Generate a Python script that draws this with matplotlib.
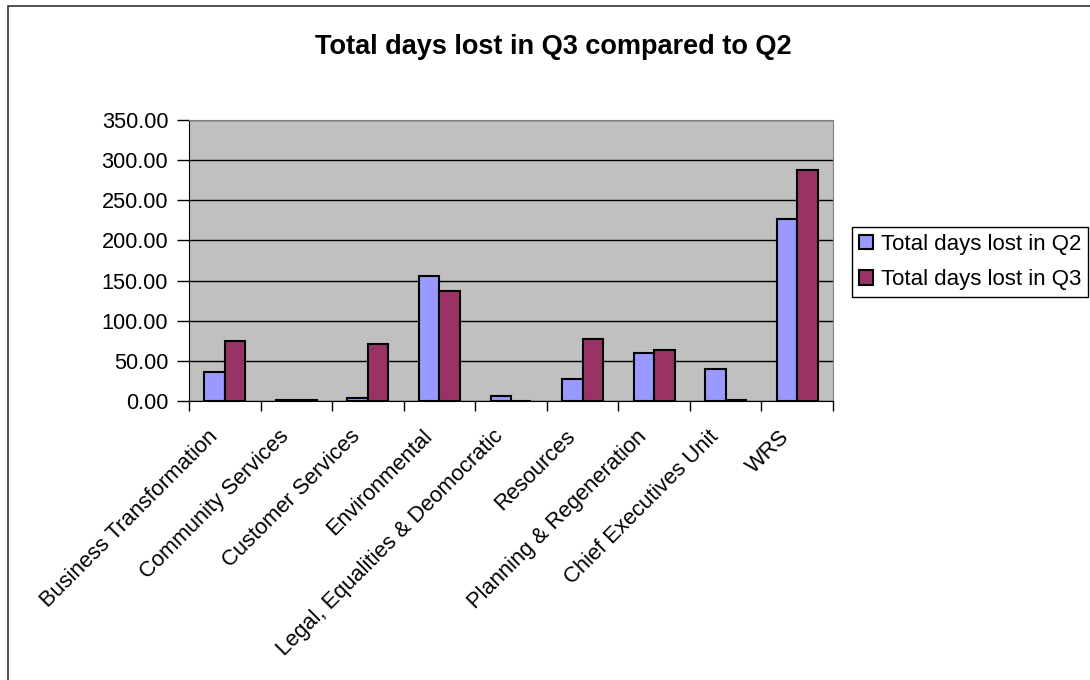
import numpy as np
import matplotlib
matplotlib.use("Agg")
import matplotlib.pyplot as plt
from matplotlib.patches import Rectangle
from matplotlib.transforms import ScaledTranslation

plt.rcParams['font.family'] = ['Liberation Sans', 'DejaVu Sans']

categories = ["Business Transformation", "Community Services", "Customer Services",
              "Environmental", "Legal, Equalities & Deomocratic", "Resources",
              "Planning & Regeneration", "Chief Executives Unit", "WRS"]
q2_days = [36.5, 1.5, 4.0, 156.0, 6.6, 27.4, 59.5, 40.3, 226.5]
q3_days = [74.8, 1.5, 70.7, 137.0, 0.0, 77.0, 63.6, 1.5, 288.0]
yticks = [0, 50, 100, 150, 200, 250, 300, 350]

fig = plt.figure(figsize=(10.9, 6.8), dpi=100)
# chart frame (only left/top edges show in the picture)
fig.patches.append(Rectangle((8 / 1090, -0.1), 1.2, (680 - 6) / 680 + 0.1,
                             transform=fig.transFigure, fill=False,
                             edgecolor='#333333', linewidth=1.2))

ax = fig.add_axes([189 / 1090, (680 - 401) / 680, (833 - 189) / 1090, 281 / 680])
ax.set_facecolor('#C0C0C0')

x = np.arange(len(categories))
w = 1 / 3.5
ax.bar(x - w / 2, q2_days, w, color='#9999FF', edgecolor='black', linewidth=1.5,
       label='Total days lost in Q2', zorder=3)
ax.bar(x + w / 2, q3_days, w, color='#993366', edgecolor='black', linewidth=1.5,
       label='Total days lost in Q3', zorder=3)

ax.set_xlim(-0.5, len(categories) - 0.5)
ax.set_ylim(0, 350)
ax.set_yticks(yticks)
ax.set_yticklabels(["%.2f" % v for v in yticks], fontsize=15.7)
ax.yaxis.grid(True, color='black', linewidth=1)
ax.set_axisbelow(True)

ax.set_xticks(x)
ax.set_xticklabels(categories, rotation=45, ha='right', va='top',
                   rotation_mode='anchor', fontsize=15.8)
ax.tick_params(axis='x', which='major', length=0, pad=18)
ax.set_xticks(np.arange(-0.5, len(categories)), minor=True)
ax.tick_params(axis='x', which='minor', length=7, width=1)
ax.tick_params(axis='y', length=9, width=1, pad=6)

# nudge category labels left (after tick_params, which resets transforms)
shift = ScaledTranslation(-18 / 100, 0, fig.dpi_scale_trans)
for lab in ax.get_xticklabels():
    lab.set_transform(lab.get_transform() + shift)

for s in ['top', 'right']:
    ax.spines[s].set_color('#808080')
for s in ['left', 'bottom']:
    ax.spines[s].set_color('black')

fig.text(553 / 1090, 1 - 47 / 680, "Total days lost in Q3 compared to Q2",
         ha='center', va='center', fontsize=19.5, fontweight='bold')

leg = fig.legend(*ax.get_legend_handles_labels(), loc='center left',
                 bbox_to_anchor=(852 / 1090, 1 - 262 / 680), fontsize=16,
                 frameon=True, fancybox=False, edgecolor='black', framealpha=1,
                 handlelength=0.63, handleheight=0.63, handletextpad=0.36,
                 borderpad=0.3, labelspacing=0.65, borderaxespad=0)
leg.get_frame().set_linewidth(1)

fig.savefig("out.png", dpi=100)
